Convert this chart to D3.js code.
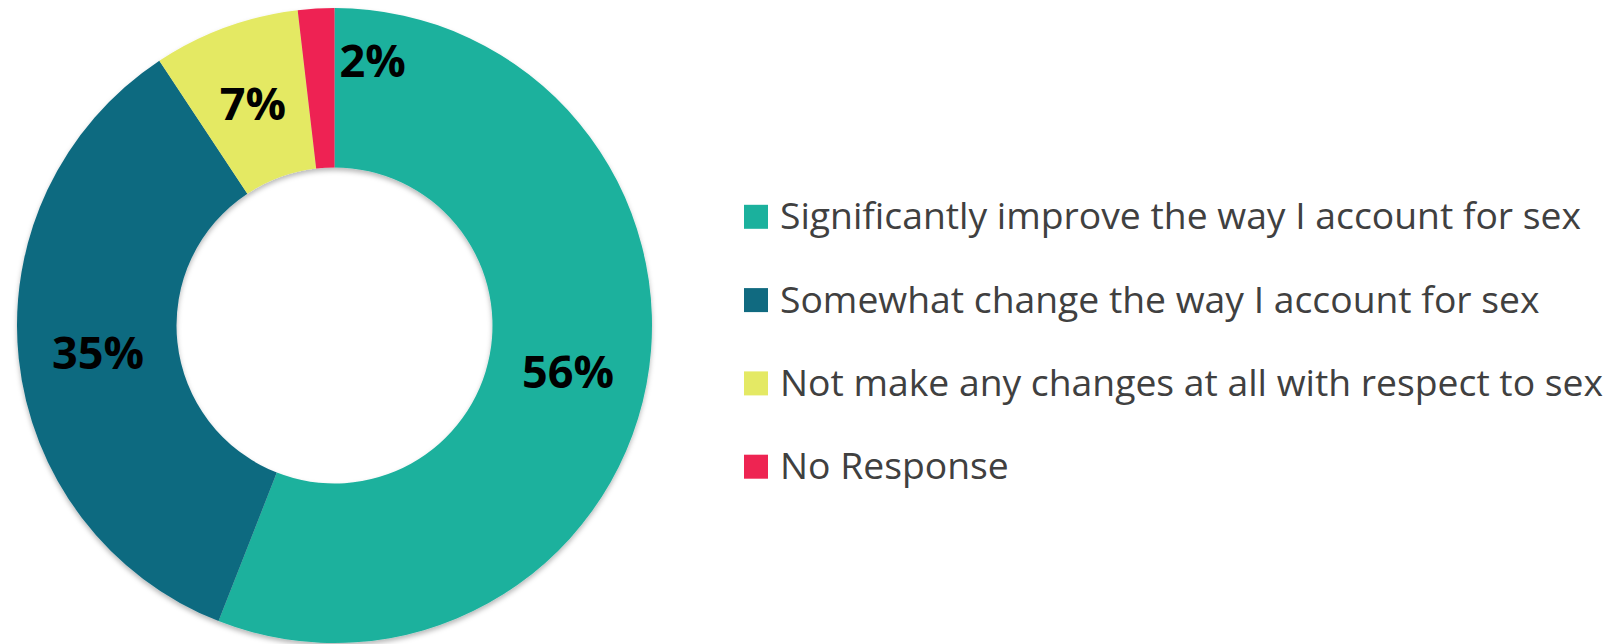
<!DOCTYPE html>
<html>
<head>
<meta charset="utf-8">
<script src="https://cdn.jsdelivr.net/npm/d3@7"></script>
<style>
  html, body { margin: 0; padding: 0; background: #fff; }
  svg { display: block; }
</style>
</head>
<body>
<svg id="chart" width="1613" height="644"></svg>
<script>
// ---- data ----
const categories = [
  "Significantly improve the way I account for sex",
  "Somewhat change the way I account for sex",
  "Not make any changes at all with respect to sex",
  "No Response"
];
const values = [55.95, 34.75, 7.45, 1.85];   // percent of respondents
const colors = ["#1BB19D", "#106A80", "#E4E964", "#EE2452"];

// ---- layout ----
const W = 1613, H = 644;
const cx = 334.5, cy = 325.5;
const rOuter = 317.5, rInner = 158;

const svg = d3.select("#chart");

const defs = svg.append("defs");
const f = defs.append("filter").attr("id", "shadow")
  .attr("x", "-10%").attr("y", "-10%").attr("width", "120%").attr("height", "120%");
f.append("feDropShadow").attr("dx", 0).attr("dy", 3).attr("stdDeviation", 2.5)
  .attr("flood-color", "#000").attr("flood-opacity", 0.28);

const data = categories.map((c, i) => ({ name: c, value: values[i], color: colors[i] }));

const pie = d3.pie().value(d => d.value).sort(null);
const arcs = pie(data);
const arc = d3.arc().innerRadius(rInner).outerRadius(rOuter);

const g = svg.append("g").attr("transform", `translate(${cx},${cy})`);

g.append("g").attr("filter", "url(#shadow)")
  .selectAll("path").data(arcs).join("path")
  .attr("d", arc)
  .attr("fill", d => d.data.color);

const fmt = d3.format(".0f");
g.append("g").selectAll("text").data(arcs).join("text")
  .attr("transform", d => {
    const [x, y] = arc.centroid(d);
    const small = d.data.value < 3;
    return `translate(${x + (small ? 52 : 0)},${y + (small ? -29 : 0) + 2})`;
  })
  .attr("text-anchor", "middle")
  .attr("dy", "0.36em")
  .style("font-family", "'Open Sans', sans-serif")
  .style("font-weight", 700)
  .style("font-size", "45px")
  .attr("fill", "#000")
  .text(d => fmt(d.data.value) + "%");

// ---- legend ----
const legendX = 744, firstBase = 229.3, rowGap = 83.3, sq = 24;
const yScale = d3.scaleBand().domain(categories).range([firstBase, firstBase + rowGap * categories.length]);

const leg = svg.append("g");
const items = leg.selectAll("g").data(data).join("g")
  .attr("transform", d => `translate(${legendX},${yScale(d.name)})`);

items.append("rect")
  .attr("x", 0).attr("y", -sq - 0.5)
  .attr("width", sq).attr("height", sq)
  .attr("fill", d => d.color);

const texts = items.append("text")
  .attr("x", 36).attr("y", 0)
  .style("font-family", "'Open Sans', sans-serif")
  .style("font-size", "36.5px")
  .attr("fill", "#404040")
  .text(d => d.name);

// Condense text uniformly so the first row matches the reference width
const natural = texts.nodes().map(n => n.getComputedTextLength());
const factor = 801 / natural[0];
texts.each(function(d, i) {
  d3.select(this).attr("textLength", natural[i] * factor).attr("lengthAdjust", "spacingAndGlyphs");
});
</script>
</body>
</html>
